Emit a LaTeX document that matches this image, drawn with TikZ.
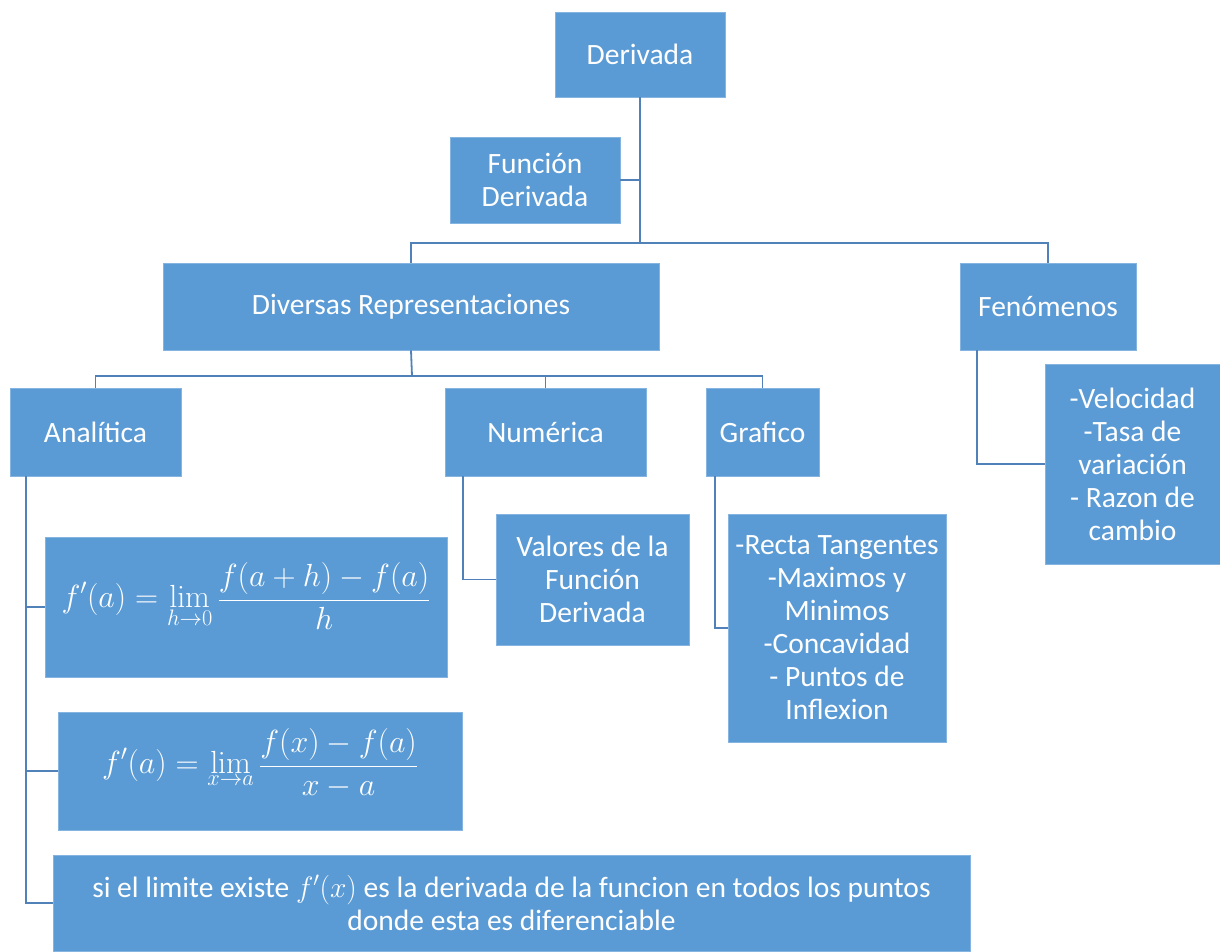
\documentclass[tikz,border=0pt]{standalone}
\usepackage{fix-cm}
\usepackage[no-math]{fontspec}
\setmainfont{Carlito}
\usepackage{tikz}
\usetikzlibrary{positioning}
\definecolor{boxBlue}{RGB}{91,155,213}
\definecolor{lineBlue}{RGB}{80,130,185}

\begin{document}
\begin{tikzpicture}[x=1pt, y=-1pt,
    font=\fontsize{29.5}{33}\selectfont\color{white},
    box/.style={rectangle, draw=boxBlue!75!white, line width=0.8pt, fill=boxBlue, text=white,
        inner sep=0pt, align=center},
    formula/.style={box, font=\fontsize{32}{36}\selectfont},
    link/.style={lineBlue, line width=1.8pt}
]
\useasboundingbox (0,0) rectangle (1220,951);
\node[box, minimum width=170, minimum height=85] (der) at (640,54.5)   {Derivada};
\node[box, minimum width=170, minimum height=86] (fun) at (535,180)    {Función\\Derivada};
\node[box, minimum width=496, minimum height=87] (rep) at (411,306.5)  {Diversas Representaciones};
\node[box, minimum width=176, minimum height=87] (fen) at (1048,306.5) {Fenómenos};
\node[box, minimum width=171, minimum height=88] (ana) at (95.5,432)   {Analítica};
\node[box, minimum width=201, minimum height=88] (num) at (545.5,432)  {Numérica};
\node[box, minimum width=113, minimum height=88] (gra) at (762.5,432)  {Grafico};
\node[box, minimum width=175, minimum height=200] (vel) at (1132.5,464) {-Velocidad\\-Tasa de\\variación\\- Razon de\\cambio};
\node[box, minimum width=193, minimum height=131] (val) at (592.5,579.5) {Valores de la\\Función\\Derivada};
\node[box, minimum width=218, minimum height=228] (grl) at (837,628) {-Recta Tangentes\\-Maximos y\\Minimos\\-Concavidad\\- Puntos de\\Inflexion};
\node[formula, minimum width=402, minimum height=140] (fa) at (246,607)
    {$\displaystyle f'(a)=\lim_{h\to 0}\frac{f(a+h)-f(a)}{h}$\\[8pt]};
\node[formula, minimum width=404, minimum height=118] (fb) at (260,771)
    {$\displaystyle f'(a)=\lim_{x\to a}\frac{f(x)-f(a)}{x-a}$\\[4pt]};
\node[box, minimum width=917, minimum height=96] (lim) at (511.5,903)
    {si el limite existe $f'(x)$ es la derivada de la funcion en todos los puntos\\donde esta es diferenciable};

\coordinate (j1) at (640,243);
\coordinate (j2) at (412,376);
\draw[link] (der) -- (j1);
\draw[link] (fun.east) -- (fun.east -| j1);
\draw[link] (rep.north) |- (j1);
\draw[link] (fen.north) |- (j1);
\draw[link] (rep.south) -- (j2);
\draw[link] (ana.north) |- (j2);
\draw[link] (num.north) -- (num.north |- j2);
\draw[link] (gra.north) |- (j2);
\draw[link] ([xshift=16pt]ana.south west) |- (fa.west);
\draw[link] ([xshift=16pt]ana.south west) |- (fb.west);
\draw[link] ([xshift=16pt]ana.south west) |- (lim.west);
\draw[link] ([xshift=18pt]num.south west) |- (val.west);
\draw[link] ([xshift=9pt]gra.south west) |- (grl.west);
\draw[link] ([xshift=17pt]fen.south west) |- (vel.west);
\end{tikzpicture}
\end{document}
